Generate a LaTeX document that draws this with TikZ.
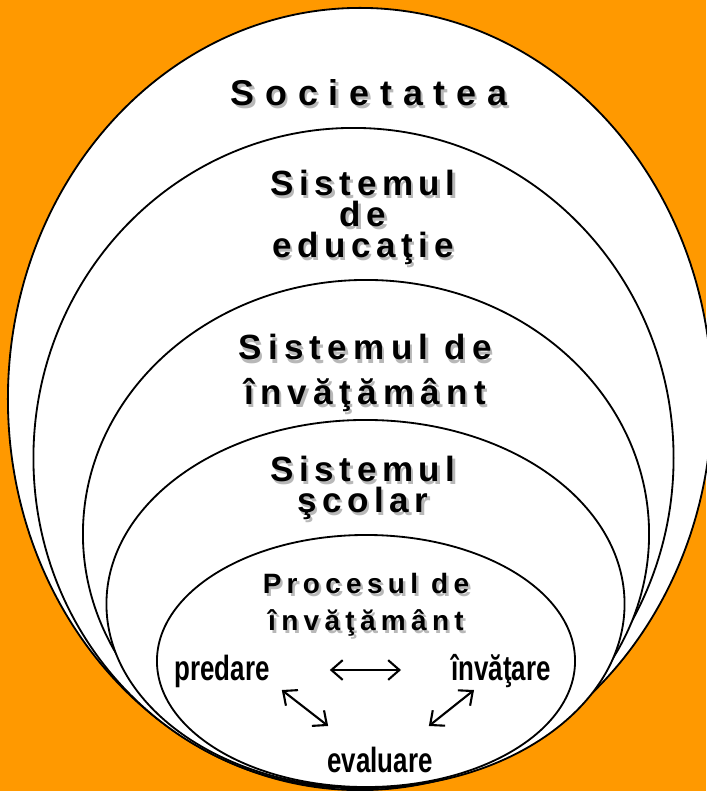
\documentclass[tikz,border=0pt]{standalone}
\usepackage{fontspec}
\setmainfont{Liberation Sans}
\newfontfamily\headfont{Liberation Sans Bold}
\newfontfamily\wordfont[FakeStretch=0.74]{Liberation Sans Bold}
\usetikzlibrary{arrows.meta}
\definecolor{bgorange}{RGB}{255,153,0}

%% label with a soft shadow behind it
\newcommand\ringtext[4]{%
	\node[ringlabel, shade, font=#3] (#1-shade) at ([shift={(0.06cm,-0.08cm)}]#2) {#4};
	\node[ringlabel, font=#3] (#1) at (#2) {#4};}

\begin{document}
\begin{tikzpicture}[x=0.025cm, y=-0.025cm,
	ring/.style={draw=black, fill=white, line width=1.3pt},
	ringlabel/.style={align=center, inner sep=0pt, anchor=base},
	shade/.style={text=black!28},
	word/.style={font=\wordfont\fontsize{24.9}{30}\selectfont, inner sep=0pt, anchor=base},
	link/.style={line width=1.5pt, {Straight Barb[length=8pt,width=14pt]}-{Straight Barb[length=8pt,width=14pt]}}
]
	\useasboundingbox (0,0) rectangle (706,791);
	\fill[bgorange] (0,0) rectangle (706,791);

	%% nested ellipses
	\draw[ring] (360,399) ellipse [x radius=8.8cm, y radius=9.775cm];
	\draw[ring] (353.5,458) ellipse [x radius=8cm, y radius=8.25cm];
	\draw[ring] (366,534) ellipse [x radius=7.075cm, y radius=6.35cm];
	\draw[ring] (365.5,604) ellipse [x radius=6.475cm, y radius=4.6cm];
	\draw[ring] (366,661) ellipse [x radius=5.225cm, y radius=3.15cm];

	%% titles (anchored on the last line)
	\ringtext{soc}{369,105}{\headfont\fontsize{25.5}{26}\selectfont\addfontfeature{LetterSpace=30}}{Societatea}
	\ringtext{edu}{363,257}{\headfont\fontsize{24.9}{22}\selectfont\addfontfeature{LetterSpace=16}}{Sistemul\\de\\educaţie}
	\ringtext{inv}{365,404}{\headfont\fontsize{24.9}{31.3}\selectfont\addfontfeature{LetterSpace=18}}{Sistemul de\\învăţământ}
	\ringtext{sco}{363,512}{\headfont\fontsize{24.9}{21.5}\selectfont\addfontfeature{LetterSpace=16}}{Sistemul\\şcolar}
	\ringtext{pro}{366,630}{\headfont\fontsize{19.9}{26.3}\selectfont\addfontfeature{LetterSpace=19}}{Procesul de\\învăţământ}

	%% the three activities
	\node[word] (predare) at (222,680) {predare};
	\node[word] (invatare) at (501,680) {învăţare};
	\node[word] (evaluare) at (380,772) {evaluare};

	\draw[link] ([shift={(1.5cm,0.25cm)}]predare.base east) -- ([shift={(-1.25cm,0.25cm)}]invatare.base west);
	\draw[link] ([shift={(0.3cm,-0.25cm)}]predare.base east) -- ([shift={(0.025cm,1.15cm)}]evaluare.base west);
	\draw[link] ([shift={(0.575cm,-0.25cm)}]invatare.base west) -- ([shift={(-0.1cm,1.15cm)}]evaluare.base east);
\end{tikzpicture}
\end{document}
